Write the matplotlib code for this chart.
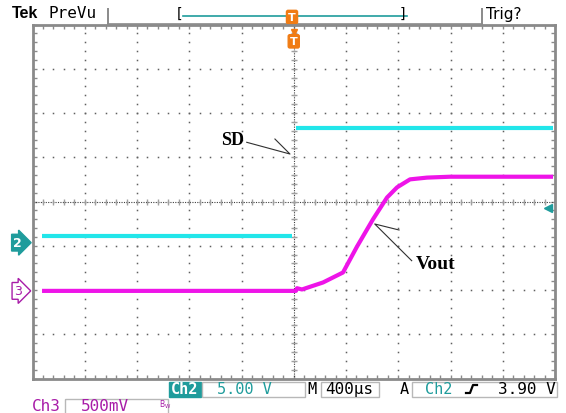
"""Tek scope capture: SD step (Ch2) and Vout soft-start (Ch3)."""
import numpy as np
import matplotlib
matplotlib.use("Agg")
import matplotlib.pyplot as plt
from matplotlib.patches import Rectangle

# scope settings
TIME_PER_DIV = 400.0          # us/div, 10 div across
CH2_VDIV, CH2_GND = 5.0, -0.93   # V/div, ground marker (div)
CH3_VDIV, CH3_GND = 0.5, -2.02
TRIG_LEVEL = 3.90             # V on Ch2

# Ch2 - SD (edge too fast to show, so two pieces)
sd_t = [-1927, -13, np.nan, 17, 1985]
sd_v = [0.7, 0.7, np.nan, 12.9, 12.9]

# Ch3 - Vout
vout_t = [-1927, 17, 25, 63, 224, 377, 484, 607, 714, 791, 890, 1020, 1196, 1985]
vout_v = [0.0, 0.0, 0.03, 0.016, 0.095, 0.208, 0.50, 0.81, 1.055, 1.17, 1.26,
          1.28, 1.29, 1.29]

CYAN = "#22e6ea"
MAGENTA = "#ee14e8"
TEAL = "#1f9c9c"
PURPLE = "#a81ca8"
ORANGE = "#f07c14"
GRAY = "#8a8a8a"
MONO = "DejaVu Sans Mono"
W, H = 566, 414

fig = plt.figure(figsize=(W / 100, H / 100), dpi=100)
fig.patch.set_facecolor("white")

# ---- chrome (pixel coords) ----
ch = fig.add_axes([0, 0, 1, 1], zorder=0)
ch.set_xlim(0, W); ch.set_ylim(H, 0); ch.axis("off")
ch.text(12, 14, "Tek", fontsize=11.5, fontweight="bold", va="center", ha="left",
        family="Liberation Sans")
ch.text(48, 14, "PreVu", fontsize=11.5, va="center", ha="left", family=MONO)
for xs in (108, 482):
    ch.plot([xs, xs], [10, 25], color=GRAY, lw=1.4)
ch.plot([108, 482], [25, 25], color=GRAY, lw=1.2)
ch.text(180, 14, "[", fontsize=10, va="center", ha="center")
ch.text(402, 14, "]", fontsize=10, va="center", ha="center")
ch.plot([183, 407], [16.5, 16.5], color=TEAL, lw=1.2)
ch.text(292, 18, "T", fontsize=8, fontweight="bold", color="white", ha="center",
        va="center", bbox=dict(boxstyle="round,pad=0.15", fc=ORANGE, ec=ORANGE))
ch.text(486, 14, "Trig?", fontsize=11, va="center", ha="left")

# bottom readout
ch.add_patch(Rectangle((169, 382.5), 32, 15, fc=TEAL, ec=TEAL))
ch.text(185, 390, "Ch2", color="white", fontsize=11, fontweight="bold",
        ha="center", va="center", family=MONO)
for x0, x1 in ((202, 305), (321, 379), (412, 557)):
    ch.add_patch(Rectangle((x0, 382.5), x1 - x0, 15, fc="none", ec="#b8b8b8", lw=1))
ch.text(217, 390, "5.00 V", color=TEAL, fontsize=11, ha="left", va="center", family=MONO)
ch.text(312, 390, "M", fontsize=11, ha="center", va="center", family=MONO)
ch.text(325, 390, "400\u00b5s", fontsize=11.5, ha="left", va="center", family=MONO)
ch.text(404, 390, "A", fontsize=11, ha="center", va="center", family=MONO)
ch.text(425, 390, "Ch2", color=TEAL, fontsize=11, ha="left", va="center", family=MONO)
ch.plot([466, 470, 473, 477], [394, 394, 386, 386], color="black", lw=1.6)
ch.text(556, 390, "3.90 V", fontsize=11.5, ha="right", va="center", family=MONO)
ch.text(32, 407, "Ch3", color=PURPLE, fontsize=11.5, ha="left", va="center", family=MONO)
ch.add_patch(Rectangle((65, 400.5), 103, 16, fc="none", ec="#b8b8b8", lw=1))
ch.text(81, 407, "500mV", color=PURPLE, fontsize=11.5, ha="left", va="center", family=MONO)
ch.text(159, 405, r"$\mathsf{B}_\mathsf{W}$", color=PURPLE, fontsize=5.5,
        ha="left", va="center")

# ---- scope screen ----
L, R, T, B = 32.5, 555, 25.5, 379.5
ax = fig.add_axes([L / W, 1 - B / H, (R - L) / W, (B - T) / H], zorder=1)
ax.set_facecolor("white")
ax.set_xlim(-5 * TIME_PER_DIV, 5 * TIME_PER_DIV)
ax.set_ylim(-4, 4)
xmaj = np.arange(-5, 6) * TIME_PER_DIV
xmin = np.arange(-25, 26) * TIME_PER_DIV / 5
ymaj = np.arange(-4, 5)
ymin = np.arange(-20, 21) / 5
ax.set_xticks(xmaj); ax.set_xticks(xmin, minor=True)
ax.set_yticks(ymaj); ax.set_yticks(ymin, minor=True)
ax.tick_params(which="both", direction="in", top=True, right=True, length=3,
               width=1, color=GRAY, labelbottom=False, labelleft=False)
for s in ax.spines.values():
    s.set_color(GRAY); s.set_linewidth(2)

# graticule dots
gx, gy = np.meshgrid(xmaj[1:-1], ymin)
ax.plot(gx.ravel(), gy.ravel(), ls="none", marker="s", ms=1.1, mew=0, color="#606060")
gx, gy = np.meshgrid(xmin, ymaj[1:-1])
ax.plot(gx.ravel(), gy.ravel(), ls="none", marker="s", ms=1.1, mew=0, color="#606060")
# centre cross
ax.axhline(0, color="#404040", lw=0.8, ls=(0, (1, 1.2)))
ax.axvline(0, color="#404040", lw=0.8, ls=(0, (1, 1.2)))
ax.plot(xmin, np.zeros_like(xmin), ls="none", marker="|", ms=4, mew=1, color="#a0a0a0")
ax.plot(np.zeros_like(ymin), ymin, ls="none", marker="_", ms=4.5, mew=1, color="#a0a0a0")

# traces
sd_div = np.array(sd_v) / CH2_VDIV + CH2_GND
vout_div = np.array(vout_v) / CH3_VDIV + CH3_GND
ax.plot(sd_t, sd_div, color=CYAN, lw=3, solid_capstyle="butt")
ax.plot(vout_t, vout_div, color=MAGENTA, lw=3, solid_capstyle="butt")

# trigger markers
ax.plot([0], [3.84], marker="v", ms=5, color=ORANGE, clip_on=False)
ax.text(0, 3.62, "T", fontsize=8, fontweight="bold", color="white", ha="center",
        va="center", bbox=dict(boxstyle="round,pad=0.15", fc=ORANGE, ec=ORANGE))
ax.plot([1947], [TRIG_LEVEL / CH2_VDIV + CH2_GND], marker="<", ms=6, color=TEAL)

# channel ground markers
yx = ax.get_yaxis_transform()
ax.text(-0.028, CH2_GND, "2", transform=yx, fontsize=9, fontweight="bold",
        color="white", ha="center", va="center", clip_on=False,
        bbox=dict(boxstyle="rarrow,pad=0.15", fc=TEAL, ec=TEAL))
ax.text(-0.028, CH3_GND, "3", transform=yx, fontsize=9, color=PURPLE,
        ha="center", va="center", clip_on=False,
        bbox=dict(boxstyle="rarrow,pad=0.15", fc="white", ec=PURPLE, lw=1))

# labels with one-sided arrow heads
ax.plot([-360, -29, -144], [1.338, 1.073, 1.412], color="#303030", lw=0.8)
ax.text(-465, 1.39, "SD", fontsize=13, fontweight="bold", family="Liberation Serif",
        ha="center", va="center")
ax.plot([903, 620, 806], [-1.338, -0.508, -0.644], color="#303030", lw=0.8)
ax.text(1089, -1.40, "Vout", fontsize=14, fontweight="bold", family="Liberation Serif",
        ha="center", va="center")

fig.savefig("out.png", dpi=100, facecolor="white")
